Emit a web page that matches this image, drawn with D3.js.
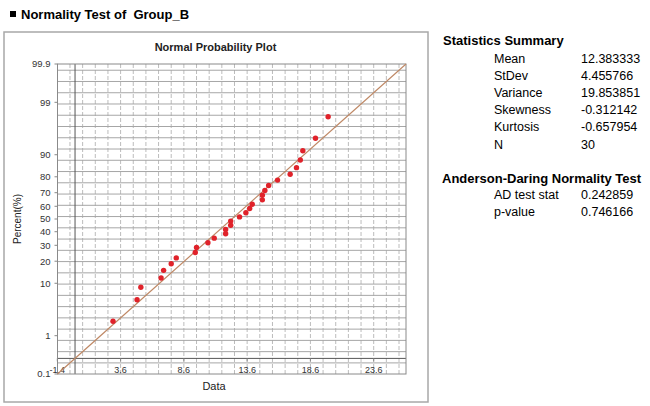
<!DOCTYPE html>
<html>
<head>
<meta charset="utf-8">
<script src="https://cdn.jsdelivr.net/npm/d3@7"></script>
<style>
  html, body { margin: 0; padding: 0; background: #fff; }
  svg { display: block; font-family: "Liberation Sans", Arial, sans-serif; }
  .pre { white-space: pre; }
</style>
</head>
<body>
<svg id="chart" width="650" height="406"></svg>
<script>
// ---- data ----
const dataValues = [3.0, 4.9, 5.2, 6.8, 7.0, 7.6, 8.0, 9.5, 9.6, 10.5,
                    11.0, 11.9, 11.9, 12.3, 12.3, 13.0, 13.5, 13.8, 14.0, 14.8,
                    14.8, 15.0, 15.3, 16.0, 17.0, 17.5, 17.8, 18.0, 19.0, 20.0];
const percentValues = [2.07, 5.37, 8.68, 11.98, 15.29, 18.60, 21.90, 25.21, 28.51, 31.82,
                       35.12, 38.43, 41.74, 45.04, 48.35, 51.65, 54.96, 58.26, 61.57, 64.88,
                       68.18, 71.49, 74.79, 78.10, 81.41, 84.71, 88.02, 91.32, 94.63, 97.93];
const yTickValues = [0.1, 1, 10, 20, 30, 40, 50, 60, 70, 80, 90, 99, 99.9];
const yTickLabels = ["0.1", "1", "10", "20", "30", "40", "50", "60", "70", "80", "90", "99", "99.9"];
const xTickValues = [-1.4, 3.6, 8.6, 13.6, 18.6, 23.6];
const xTickLabels = ["-1.4", "3.6", "8.6", "13.6", "18.6", "23.6"];
const statNames = ["Mean", "StDev", "Variance", "Skewness", "Kurtosis", "N"];
const statValues = ["12.383333", "4.455766", "19.853851", "-0.312142", "-0.657954", "30"];
const adNames = ["AD test stat", "p-value"];
const adValues = ["0.242859", "0.746166"];
const fitMean = 12.383333;
const fitStDev = 4.455766;
const percentRange = [0.1, 99.9];

// ---- inverse normal CDF (Acklam) ----
function probit(p) {
  const a = [-3.969683028665376e+01, 2.209460984245205e+02, -2.759285104469687e+02, 1.383577518672690e+02, -3.066479806614716e+01, 2.506628277459239e+00];
  const b = [-5.447609879822406e+01, 1.615858368580409e+02, -1.556989798598866e+02, 6.680131188771972e+01, -1.328068155288572e+01];
  const c = [-7.784894002430293e-03, -3.223964580411365e-01, -2.400758277161838e+00, -2.549671039276294e+00, 4.374664141464968e+00, 2.938163982698783e+00];
  const d = [7.784695709041462e-03, 3.224671290700398e-01, 2.445134137142996e+00, 3.754408661907416e+00];
  const pl = 0.02425, ph = 1 - pl;
  let q, r;
  if (p < pl) {
    q = Math.sqrt(-2 * Math.log(p));
    return (((((c[0]*q+c[1])*q+c[2])*q+c[3])*q+c[4])*q+c[5]) / ((((d[0]*q+d[1])*q+d[2])*q+d[3])*q+1);
  } else if (p <= ph) {
    q = p - 0.5; r = q*q;
    return (((((a[0]*r+a[1])*r+a[2])*r+a[3])*r+a[4])*r+a[5])*q / (((((b[0]*r+b[1])*r+b[2])*r+b[3])*r+b[4])*r+1);
  } else {
    q = Math.sqrt(-2 * Math.log(1 - p));
    return -(((((c[0]*q+c[1])*q+c[2])*q+c[3])*q+c[4])*q+c[5]) / ((((d[0]*q+d[1])*q+d[2])*q+d[3])*q+1);
  }
}

const svg = d3.select("#chart");

// page title
svg.append("rect").attr("x", 10).attr("y", 11).attr("width", 6).attr("height", 6).attr("fill", "#000");
svg.append("text").attr("class", "pre").attr("x", 21).attr("y", 18.5).attr("font-size", 13).attr("font-weight", "bold")
  .attr("fill", "#000").text("Normality Test of  Group_B");

// outer chart box
svg.append("rect").attr("x", 4).attr("y", 32).attr("width", 424).attr("height", 370)
  .attr("fill", "#fff").attr("stroke", "#a8a8a8").attr("stroke-width", 1.5);

svg.append("text").attr("x", 215.5).attr("y", 51).attr("text-anchor", "middle")
  .attr("font-size", 11).attr("font-weight", "bold").attr("fill", "#222").text("Normal Probability Plot");

// plot geometry
const L = 57.5, R = 406, T = 64, B = 374;
const zLo = probit(percentRange[0] / 100), zHi = probit(percentRange[1] / 100);
const xMin = fitMean + fitStDev * zLo, xMax = fitMean + fitStDev * zHi;
const x = d3.scaleLinear().domain([xMin, xMax]).range([L, R]);
const zScale = d3.scaleLinear().domain([zLo, zHi]).range([B, T]);
const yP = p => zScale(probit(p / 100));
const yD = v => zScale((v - fitMean) / fitStDev);

const g = svg.append("g");

// grid lines (unit spacing in data coordinates)
const gridVals = d3.range(-0.4, 26.0, 1);
g.selectAll("line.vg").data(gridVals).enter().append("line")
  .attr("x1", d => x(d)).attr("x2", d => x(d)).attr("y1", T).attr("y2", B)
  .attr("stroke", "#bcbcbc").attr("stroke-width", 1).attr("stroke-dasharray", "4,2");
g.selectAll("line.hg").data(gridVals.filter(v => yD(v) < B && yD(v) > T)).enter().append("line")
  .attr("x1", L).attr("x2", R).attr("y1", d => yD(d)).attr("y2", d => yD(d))
  .attr("stroke", "#a6a6a6").attr("stroke-width", 1);

// zero lines
g.append("line").attr("x1", x(0)).attr("x2", x(0)).attr("y1", T).attr("y2", B)
  .attr("stroke", "#555").attr("stroke-width", 1);
g.append("line").attr("x1", L).attr("x2", R).attr("y1", yD(0)).attr("y2", yD(0))
  .attr("stroke", "#555").attr("stroke-width", 1);

// frame
g.append("rect").attr("x", L).attr("y", T).attr("width", R - L).attr("height", B - T)
  .attr("fill", "none").attr("stroke", "#8a8a8a").attr("stroke-width", 1);

// y ticks
g.selectAll("line.yt").data(yTickValues).enter().append("line")
  .attr("x1", L - 3).attr("x2", L).attr("y1", d => yP(d)).attr("y2", d => yP(d))
  .attr("stroke", "#888");
g.selectAll("text.yl").data(yTickValues).enter().append("text")
  .attr("x", L - 7).attr("y", d => yP(d)).attr("dy", "0.35em").attr("text-anchor", "end")
  .attr("font-size", 9.5).attr("fill", "#333").text((d, i) => yTickLabels[i]);

// x ticks (drawn at zero line)
g.selectAll("line.xt").data(xTickValues).enter().append("line")
  .attr("x1", d => x(d)).attr("x2", d => x(d)).attr("y1", yD(0)).attr("y2", yD(0) + 3)
  .attr("stroke", "#888");
g.selectAll("text.xl").data(xTickValues).enter().append("text")
  .attr("x", d => x(d)).attr("y", 372.5).attr("text-anchor", "middle")
  .attr("font-size", 9).attr("fill", "#333").text((d, i) => xTickLabels[i]);

// axis titles
svg.append("text").attr("transform", "translate(21,219) rotate(-90)").attr("text-anchor", "middle")
  .attr("font-size", 10).attr("fill", "#222").text("Percent(%)");
svg.append("text").attr("x", 214).attr("y", 390).attr("text-anchor", "middle")
  .attr("font-size", 11).attr("fill", "#222").text("Data");

// fitted line
g.append("line")
  .attr("x1", x(fitMean + fitStDev * zLo)).attr("y1", zScale(zLo))
  .attr("x2", x(fitMean + fitStDev * zHi)).attr("y2", zScale(zHi))
  .attr("stroke", "#bf8865").attr("stroke-width", 1.2);

// points
g.selectAll("circle.pt").data(dataValues).enter().append("circle")
  .attr("cx", d => x(d)).attr("cy", (d, i) => yP(percentValues[i])).attr("r", 2.7)
  .attr("fill", "#e0222a");

// statistics panel
svg.append("text").attr("x", 443).attr("y", 45).attr("font-size", 13).attr("font-weight", "bold")
  .attr("fill", "#000").text("Statistics Summary");
statNames.forEach((n, i) => {
  svg.append("text").attr("x", 494).attr("y", 63 + i * 17.1).attr("font-size", 12.5).attr("fill", "#000").text(n);
  svg.append("text").attr("x", 581).attr("y", 63 + i * 17.1).attr("font-size", 12.5).attr("fill", "#000").text(statValues[i]);
});
svg.append("text").attr("x", 442).attr("y", 182.5).attr("font-size", 13).attr("font-weight", "bold")
  .attr("fill", "#000").text("Anderson-Daring Normality Test");
adNames.forEach((n, i) => {
  svg.append("text").attr("x", 494).attr("y", 198.5 + i * 17).attr("font-size", 12.5).attr("fill", "#000").text(n);
  svg.append("text").attr("x", 581).attr("y", 198.5 + i * 17).attr("font-size", 12.5).attr("fill", "#000").text(adValues[i]);
});
</script>
</body>
</html>
